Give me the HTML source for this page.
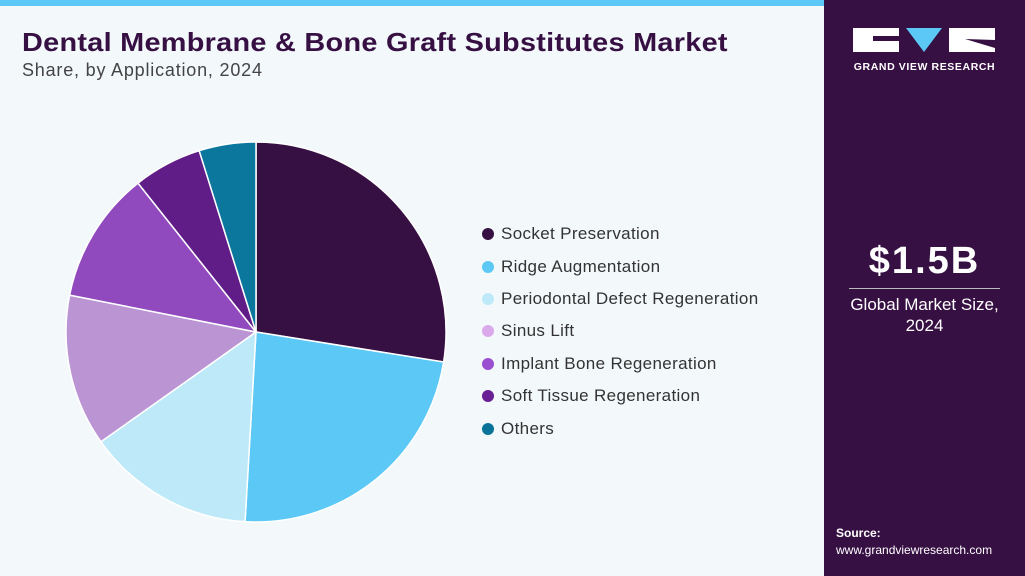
<!DOCTYPE html>
<html><head><meta charset="utf-8"><style>
*{margin:0;padding:0;box-sizing:border-box}
body{width:1025px;height:576px;overflow:hidden;background:#f3f8fb;font-family:"Liberation Sans",Arial,sans-serif;position:relative}
.top{position:absolute;left:0;top:0;width:824px;height:6px;background:#5bc8f5}
.t1{position:absolute;left:22px;top:27px;font-size:26px;font-weight:bold;color:#371043;letter-spacing:0.25px;transform:scaleX(1.11);transform-origin:0 0;white-space:nowrap}
.t2{position:absolute;left:22px;top:60px;font-size:18px;color:#444;letter-spacing:0.8px;white-space:nowrap}
.panel{position:absolute;left:824px;top:0;width:201px;height:576px;background:#371043}
.leg{position:absolute;left:482px;top:218px;font-size:17px;color:#333;letter-spacing:0.35px}
.leg div{height:32.4px;display:flex;align-items:center}
.leg span{width:12px;height:12px;border-radius:50%;display:inline-block;margin-right:7px}
</style></head><body>
<div class="top"></div>
<div class="t1">Dental Membrane &amp; Bone Graft Substitutes Market</div>
<div class="t2">Share, by Application, 2024</div>
<svg id="pie" style="position:absolute;left:0;top:0" width="824" height="576"></svg>
<div class="leg">
<div><span style="background:#371043"></span>Socket Preservation</div>
<div><span style="background:#5bc8f5"></span>Ridge Augmentation</div>
<div><span style="background:#bde9f8"></span>Periodontal Defect Regeneration</div>
<div><span style="background:#d9a9ec"></span>Sinus Lift</div>
<div><span style="background:#9a4fd0"></span>Implant Bone Regeneration</div>
<div><span style="background:#6a1f94"></span>Soft Tissue Regeneration</div>
<div><span style="background:#0b7399"></span>Others</div>
</div>
<div class="panel">
<svg style="position:absolute;left:29px;top:28px" width="142" height="24">
<path d="M0 0H46V8H20V13H46V24H0Z" fill="#fff"/>
<path d="M53 0H89L71 24Z" fill="#5bc8f5"/>
<path d="M96 0H142V24H96Z" fill="#fff"/>
<path d="M112 11L142 12V20Z" fill="#371043"/>
</svg>
<div style="position:absolute;left:0;width:201px;top:61px;text-align:center;color:#fff;font-size:10.5px;font-weight:bold;letter-spacing:0.6px">GRAND VIEW RESEARCH</div>
<div style="position:absolute;left:0;width:201px;top:240px;text-align:center;color:#fff;font-size:38px;font-weight:bold;letter-spacing:2px">$1.5B</div>
<div style="position:absolute;left:25px;width:151px;top:288px;border-top:1px solid #bbb"></div>
<div style="position:absolute;left:0;width:201px;top:294px;text-align:center;color:#fff;font-size:17px;line-height:21px">Global Market Size,<br>2024</div>
<div style="position:absolute;left:12px;top:526px;color:#fff;font-size:12px;font-weight:bold">Source:</div>
<div style="position:absolute;left:12px;top:543px;color:#fff;font-size:12px">www.grandviewresearch.com</div>
</div>
<script>
var cx=256,cy=332,r=190;
var b=[0,99.1,183.3,234.7,281.2,321.6,342.6,360];
var c=["#371043","#5bc8f5","#bde9f8","#bb94d4","#9149be","#611d87","#0b779c"];
var s="";
function p(a){a=a*Math.PI/180;return (cx+r*Math.sin(a)).toFixed(2)+" "+(cy-r*Math.cos(a)).toFixed(2);}
for(var i=0;i<7;i++){var l=(b[i+1]-b[i])>180?1:0;
s+='<path d="M'+cx+' '+cy+'L'+p(b[i])+'A'+r+' '+r+' 0 '+l+' 1 '+p(b[i+1])+'Z" fill="'+c[i]+'" stroke="#fff" stroke-width="1.5"/>';}
document.getElementById("pie").innerHTML=s;
</script>
</body></html>
